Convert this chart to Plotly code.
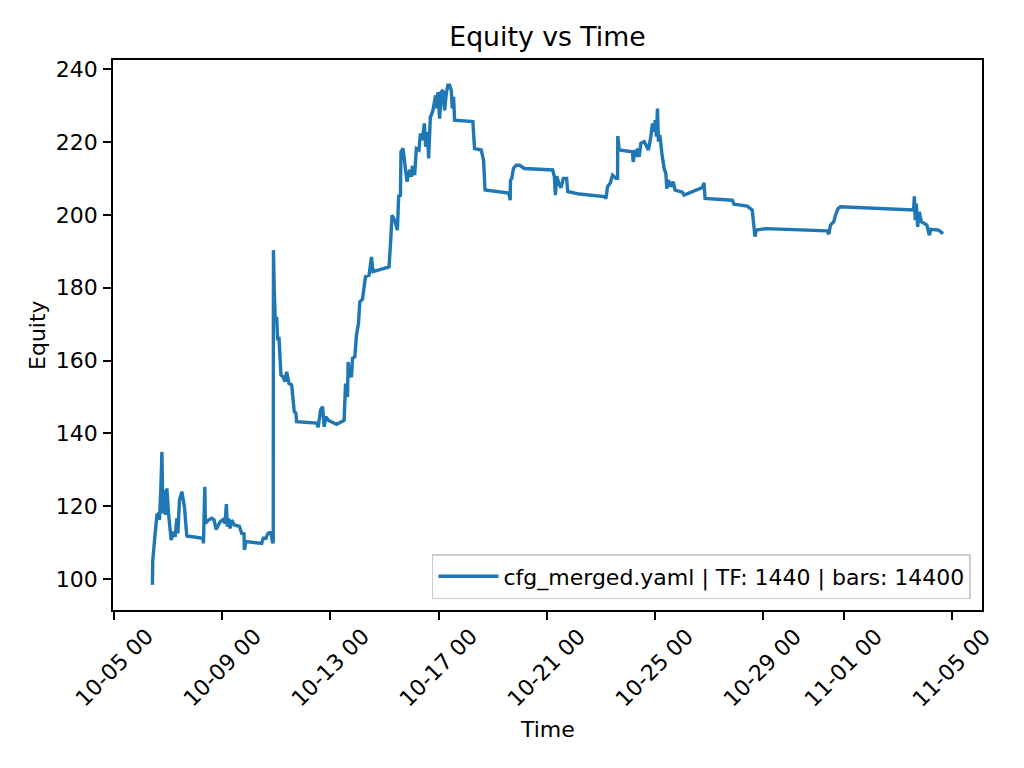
import plotly.graph_objects as go

times = [
    "2025-10-06 09:50", "2025-10-06 09:54", "2025-10-06 10:05", "2025-10-06 11:43", "2025-10-06 13:51",
    "2025-10-06 15:16", "2025-10-06 16:09", "2025-10-06 17:23", "2025-10-06 18:17", "2025-10-06 19:10",
    "2025-10-06 20:19", "2025-10-06 21:28", "2025-10-06 22:42", "2025-10-07 00:08", "2025-10-07 02:31",
    "2025-10-07 04:33", "2025-10-07 06:04", "2025-10-07 07:34", "2025-10-07 08:27", "2025-10-07 09:53",
    "2025-10-07 12:00", "2025-10-07 14:18", "2025-10-07 16:26", "2025-10-07 17:19", "2025-10-08 06:37",
    "2025-10-08 07:09", "2025-10-08 08:23", "2025-10-08 08:55", "2025-10-08 11:35", "2025-10-08 14:35",
    "2025-10-08 16:38", "2025-10-08 18:24", "2025-10-08 21:57", "2025-10-09 00:20", "2025-10-09 02:23",
    "2025-10-09 03:32", "2025-10-09 04:25", "2025-10-09 05:18", "2025-10-09 06:49", "2025-10-09 08:19",
    "2025-10-09 10:37", "2025-10-09 15:03", "2025-10-09 17:11", "2025-10-09 19:13", "2025-10-09 19:30",
    "2025-10-09 21:00", "2025-10-10 10:54", "2025-10-10 12:19", "2025-10-10 14:42", "2025-10-10 16:13",
    "2025-10-10 17:38", "2025-10-10 19:09", "2025-10-10 20:40", "2025-10-10 21:11", "2025-10-10 21:20",
    "2025-10-10 22:04", "2025-10-10 22:58", "2025-10-11 00:12", "2025-10-11 01:05", "2025-10-11 02:14",
    "2025-10-11 04:01", "2025-10-11 06:03", "2025-10-11 07:34", "2025-10-11 09:04", "2025-10-11 11:06",
    "2025-10-11 13:30", "2025-10-11 15:48", "2025-10-11 17:18", "2025-10-11 17:56", "2025-10-12 11:39",
    "2025-10-12 13:04", "2025-10-12 15:12", "2025-10-12 16:58", "2025-10-12 18:23", "2025-10-12 19:54",
    "2025-10-12 21:56", "2025-10-13 05:23", "2025-10-13 09:49", "2025-10-13 12:07", "2025-10-13 13:22",
    "2025-10-13 15:08", "2025-10-13 15:40", "2025-10-13 17:10", "2025-10-13 18:40", "2025-10-13 19:34",
    "2025-10-13 21:36", "2025-10-13 23:06", "2025-10-14 00:53", "2025-10-14 02:02", "2025-10-14 04:25",
    "2025-10-14 05:35", "2025-10-14 07:05", "2025-10-14 10:16", "2025-10-14 12:24", "2025-10-14 13:49",
    "2025-10-15 04:00", "2025-10-15 05:30", "2025-10-15 06:40", "2025-10-15 09:03", "2025-10-15 11:26",
    "2025-10-15 12:36", "2025-10-15 14:06", "2025-10-15 14:38", "2025-10-15 16:25", "2025-10-15 18:32",
    "2025-10-15 19:57", "2025-10-15 22:20", "2025-10-15 23:51", "2025-10-16 00:44", "2025-10-16 02:47",
    "2025-10-16 04:17", "2025-10-16 06:35", "2025-10-16 07:50", "2025-10-16 09:36", "2025-10-16 11:22",
    "2025-10-16 12:32", "2025-10-16 14:02", "2025-10-16 15:11", "2025-10-16 16:41", "2025-10-16 17:35",
    "2025-10-16 19:00", "2025-10-16 20:30", "2025-10-16 21:23", "2025-10-16 22:32", "2025-10-16 23:26",
    "2025-10-17 00:56", "2025-10-17 02:26", "2025-10-17 03:52", "2025-10-17 05:22", "2025-10-17 06:52",
    "2025-10-17 08:17", "2025-10-17 09:48", "2025-10-17 11:18", "2025-10-17 12:11", "2025-10-17 13:20",
    "2025-10-17 14:14", "2025-10-18 06:27", "2025-10-18 07:57", "2025-10-18 13:53", "2025-10-18 15:56",
    "2025-10-18 17:16", "2025-10-19 14:21", "2025-10-19 15:36", "2025-10-19 15:52", "2025-10-19 17:01",
    "2025-10-19 18:31", "2025-10-19 20:55", "2025-10-19 23:50", "2025-10-20 04:16", "2025-10-21 05:21",
    "2025-10-21 06:52", "2025-10-21 07:45", "2025-10-21 08:54", "2025-10-21 11:17", "2025-10-21 12:48",
    "2025-10-21 14:50", "2025-10-21 17:46", "2025-10-21 18:39", "2025-10-22 05:01", "2025-10-23 03:10",
    "2025-10-23 04:41", "2025-10-23 06:06", "2025-10-23 08:29", "2025-10-23 10:32", "2025-10-23 13:32",
    "2025-10-23 14:58", "2025-10-23 15:10", "2025-10-23 16:28", "2025-10-24 04:16", "2025-10-24 04:53",
    "2025-10-24 06:23", "2025-10-24 07:16", "2025-10-24 08:41", "2025-10-24 10:11", "2025-10-24 11:42",
    "2025-10-24 14:38", "2025-10-24 16:08", "2025-10-24 18:26", "2025-10-24 20:34", "2025-10-24 21:59",
    "2025-10-24 23:29", "2025-10-25 00:22", "2025-10-25 01:32", "2025-10-25 02:25", "2025-10-25 03:18",
    "2025-10-25 04:32", "2025-10-25 06:19", "2025-10-25 08:21", "2025-10-25 09:52", "2025-10-25 10:44",
    "2025-10-25 12:10", "2025-10-25 14:17", "2025-10-25 16:20", "2025-10-25 18:06", "2025-10-26 00:34",
    "2025-10-26 02:05", "2025-10-26 18:18", "2025-10-26 19:48", "2025-10-26 20:41", "2025-10-27 20:53",
    "2025-10-27 22:23", "2025-10-28 10:11", "2025-10-28 14:37", "2025-10-28 16:07", "2025-10-28 17:00",
    "2025-10-28 18:10", "2025-10-29 02:29", "2025-10-31 09:05", "2025-10-31 10:35", "2025-10-31 12:06",
    "2025-10-31 15:01", "2025-10-31 16:32", "2025-10-31 18:50", "2025-10-31 20:58", "2025-11-03 11:00",
    "2025-11-03 13:56", "2025-11-03 14:34", "2025-11-03 15:26", "2025-11-03 16:19", "2025-11-03 17:28",
    "2025-11-03 18:59", "2025-11-03 20:45", "2025-11-04 01:43", "2025-11-04 03:50", "2025-11-04 05:16",
    "2025-11-04 12:05", "2025-11-04 15:00", "2025-11-04 15:40",
]

equity = [
    100.0, 98.4, 104.8, 110.7, 117.6,
    118.0, 116.2, 125.3, 134.9, 118.0,
    124.4, 117.6, 124.9, 118.0, 110.7,
    113.0, 111.6, 116.7, 112.5, 121.7,
    124.0, 119.8, 111.6, 111.8, 111.2,
    109.8, 125.3, 115.3, 116.2, 116.7,
    116.2, 113.6, 115.7, 116.3, 115.3,
    120.6, 114.4, 116.7, 113.9, 116.2,
    114.8, 114.5, 112.5, 112.4, 108.0,
    110.3, 109.8, 111.2, 111.2, 112.4,
    112.7, 112.7, 109.8, 110.3, 190.3,
    179.3, 171.1, 172.0, 165.6, 166.5,
    156.0, 155.5, 154.2, 156.9, 153.7,
    153.3, 146.0, 145.5, 143.2, 142.8,
    141.7, 146.4, 147.3, 141.8, 144.6,
    143.6, 142.5, 143.2, 143.6, 153.7,
    150.0, 159.6, 156.0, 155.5, 160.6,
    161.0, 167.0, 170.2, 176.1, 176.8,
    179.8, 183.0, 183.4, 188.4, 184.4,
    185.7, 193.1, 199.9, 198.5, 195.8,
    205.4, 205.0, 217.3, 218.2, 212.7,
    209.1, 212.3, 210.4, 213.4, 210.9,
    218.2, 217.8, 222.3, 220.5, 225.1,
    218.7, 222.8, 215.5, 226.9, 227.4,
    228.7, 231.5, 232.8, 229.2, 233.7,
    226.4, 233.7, 234.2, 228.7, 233.3,
    235.6, 235.6, 234.2, 229.2, 232.4,
    226.0, 225.6, 218.2, 217.8, 215.0,
    206.8, 206.0, 204.0, 209.5, 210.0,
    212.7, 213.6, 213.6, 212.7, 212.3,
    210.4, 205.4, 210.6, 208.2, 207.5,
    210.0, 210.0, 206.4, 205.7, 205.0,
    204.5, 207.7, 208.7, 210.9, 210.0,
    210.0, 221.6, 217.8, 217.3, 214.5,
    217.8, 215.9, 218.2, 215.9, 219.6,
    220.1, 219.1, 217.8, 221.5, 225.1,
    222.8, 226.0, 221.5, 229.2, 220.1,
    221.9, 216.9, 212.7, 211.3, 207.2,
    209.5, 207.7, 209.1, 206.8, 206.2,
    205.4, 207.5, 208.8, 204.5, 204.0,
    202.9, 202.4, 201.3, 197.6, 194.0,
    195.8, 196.2, 195.6, 194.7, 197.2,
    198.1, 199.9, 201.7, 202.2, 201.5,
    201.3, 205.1, 198.5, 203.1, 196.7,
    200.8, 198.1, 197.2, 194.4, 196.0,
    195.8, 195.1, 194.7,
]

x_tick_vals = ["2025-10-05", "2025-10-09", "2025-10-13", "2025-10-17", "2025-10-21",
               "2025-10-25", "2025-10-29", "2025-11-01", "2025-11-05"]
x_tick_text = ["10-05 00", "10-09 00", "10-13 00", "10-17 00", "10-21 00",
               "10-25 00", "10-29 00", "11-01 00", "11-05 00"]
y_tick_vals = [100, 120, 140, 160, 180, 200, 220, 240]

series_name = "cfg_merged.yaml | TF: 1440 | bars: 14400"
FONT = "DejaVu Sans"

fig = go.Figure()
fig.add_trace(go.Scatter(
    x=times, y=equity, mode="lines", name=series_name,
    line=dict(color="#1f77b4", width=3.4),
))

annotations = []
for v, t in zip(x_tick_vals, x_tick_text):
    annotations.append(dict(
        x=v, xref="x", y=-0.020, yref="paper", text=t, showarrow=False,
        textangle=-45, xanchor="center", yanchor="top",
        font=dict(family=FONT, size=22, color="black"),
    ))
annotations.append(dict(
    x=0.5, xref="paper", y=-0.218, yref="paper", text="Time", showarrow=False,
    xanchor="center", yanchor="middle", font=dict(family=FONT, size=22, color="black"),
))
annotations.append(dict(
    x=-0.0875, xref="paper", y=0.5, yref="paper", text="Equity", showarrow=False,
    textangle=-90, xanchor="center", yanchor="middle",
    font=dict(family=FONT, size=22, color="black"),
))

fig.update_layout(
    width=1016, height=760,
    margin=dict(l=105, r=42, t=52, b=158, pad=0),
    paper_bgcolor="white", plot_bgcolor="white",
    font=dict(family=FONT, size=22, color="black"),
    title=dict(text="Equity vs Time", x=0.5, xref="paper", xanchor="center",
               y=1 - 29 / 760, yref="container", yanchor="middle",
               font=dict(family=FONT, size=26.7, color="black")),
    showlegend=True,
    legend=dict(x=0.9873, y=0.02, xanchor="right", yanchor="bottom",
                bgcolor="rgba(255,255,255,0.8)", bordercolor="#cccccc", borderwidth=1.5,
                itemwidth=60,
                font=dict(family=FONT, size=22, color="black")),
    annotations=annotations,
)
fig.update_xaxes(
    type="date", range=["2025-10-04 22:50", "2025-11-06 02:40"],
    tickvals=x_tick_vals, ticktext=x_tick_text, showticklabels=False,
    ticks="outside", ticklen=8, tickwidth=1.8, tickcolor="black",
    showline=True, linewidth=1.8, linecolor="black", mirror=True,
    showgrid=False, zeroline=False,
)
fig.update_yaxes(
    range=[91.5, 242.5], tickvals=y_tick_vals,
    ticks="outside", ticklen=8, tickwidth=1.8, tickcolor="black", ticklabelstandoff=1,
    showline=True, linewidth=1.8, linecolor="black", mirror=True,
    showgrid=False, zeroline=False,
    tickfont=dict(family=FONT, size=22, color="black"),
)

fig.write_html("out.html")
